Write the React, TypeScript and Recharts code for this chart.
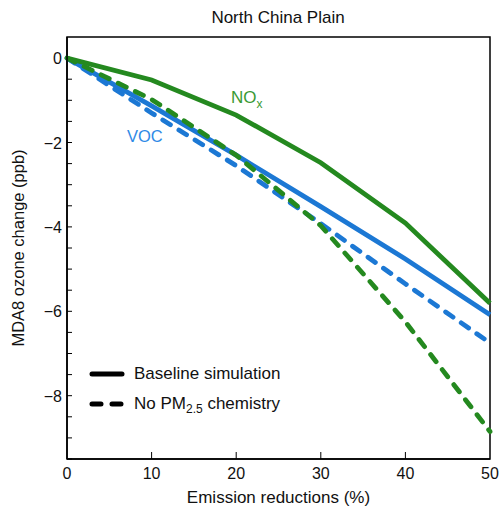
import React from "react";
import {
  LineChart,
  Line,
  XAxis,
  YAxis,
  Label,
  ReferenceDot,
  ReferenceArea,
} from "recharts";

const reductions = [0, 10, 20, 30, 40, 50];
const noxBaseline = [0, -0.52, -1.35, -2.48, -3.91, -5.81];
const vocBaseline = [0, -1.13, -2.3, -3.52, -4.76, -6.08];
const noxNoPM = [0, -0.98, -2.3, -3.97, -6.25, -8.85];
const vocNoPM = [0, -1.3, -2.55, -3.92, -5.35, -6.75];

const xTicks = [0, 10, 20, 30, 40, 50];
const yTicks = Array.from({ length: 20 }, (_, i) => -i * 0.5);
const yLabelled = [0, -2, -4, -6, -8];

const GREEN = "#24891f";
const BLUE = "#1c78d4";
const FONT = "'Liberation Sans', Arial, sans-serif";

const data = reductions.map((r, i) => ({
  x: r,
  noxBase: noxBaseline[i],
  vocBase: vocBaseline[i],
  noxNo: noxNoPM[i],
  vocNo: vocNoPM[i],
}));

const XTick = (props: any) => {
  const { x, y, payload } = props;
  const v = payload.value;
  return (
    <g>
      {v !== 0 && v !== 50 && (
        <line x1={x} x2={x} y1={y} y2={y - 7} stroke="#000" strokeWidth={1} />
      )}
      <text x={x} y={y + 20} textAnchor="middle" fontSize={16} fill="#111" fontFamily={FONT}>
        {v}
      </text>
    </g>
  );
};

const YTick = (props: any) => {
  const { x, y, payload } = props;
  const v = payload.value;
  const major = yLabelled.includes(v);
  return (
    <g>
      {v !== 0 && <line x1={x} x2={x + 5} y1={y} y2={y} stroke="#000" strokeWidth={1} />}
      {major && (
        <text x={x - 5} y={y + 6} textAnchor="end" fontSize={16} fill="#111" fontFamily={FONT}>
          {v === 0 ? "0" : `\u2212${Math.abs(v)}`}
        </text>
      )}
    </g>
  );
};

const LegendBox = () => (
  <div
    style={{
      position: "absolute",
      left: 88,
      top: 359,
      fontFamily: FONT,
      fontSize: 17,
      color: "#111",
    }}
  >
    <div style={{ display: "flex", alignItems: "center", height: 30 }}>
      <svg width={40} height={10}>
        <line x1={4} x2={34} y1={5} y2={5} stroke="#000" strokeWidth={5} strokeLinecap="round" />
      </svg>
      <span style={{ marginLeft: 6 }}>Baseline simulation</span>
    </div>
    <div style={{ display: "flex", alignItems: "center", height: 30 }}>
      <svg width={40} height={10}>
        <line x1={4} x2={36} y1={5} y2={5} stroke="#000" strokeWidth={5} strokeLinecap="round" strokeDasharray="9 11" />
      </svg>
      <span style={{ marginLeft: 6 }}>
        No PM<sub style={{ fontSize: 12, lineHeight: 0 }}>2.5</sub> chemistry
      </span>
    </div>
  </div>
);

export default function App() {
  return (
    <div style={{ position: "absolute", left: 0, top: 0, width: 500, height: 509, background: "#fff" }}>
      <div
        style={{
          position: "absolute",
          left: 0,
          width: 556,
          top: 8,
          textAlign: "center",
          fontFamily: FONT,
          fontSize: 17,
          color: "#111",
        }}
      >
        North China Plain
      </div>
      <LineChart
        width={500}
        height={509}
        data={data}
        margin={{ top: 37, right: 10, bottom: 0, left: 0 }}
      >
        <XAxis
          dataKey="x"
          type="number"
          domain={[0, 50]}
          ticks={xTicks}
          tick={<XTick />}
          tickSize={0}
          tickMargin={0}
          tickLine={false}
          axisLine={{ stroke: "#000", strokeWidth: 1.5 }}
          height={50}
        >
          <Label
            value="Emission reductions (%)"
            position="insideBottom"
            offset={6}
            style={{ fontFamily: FONT, fontSize: 17, fill: "#111" }}
          />
        </XAxis>
        <YAxis
          type="number"
          domain={[-9.5, 0.5]}
          ticks={yTicks}
          interval={0}
          tick={<YTick />}
          tickSize={0}
          tickMargin={0}
          tickLine={false}
          axisLine={{ stroke: "#000", strokeWidth: 1.5 }}
          width={67}
        >
          <Label
            value="MDA8 ozone change (ppb)"
            angle={-90}
            position="insideLeft"
            offset={18}
            style={{ textAnchor: "middle", fontFamily: FONT, fontSize: 16.5, fill: "#111" }}
          />
        </YAxis>
        <ReferenceArea
          x1={0}
          x2={50}
          y1={-9.5}
          y2={0.5}
          fill="none"
          stroke="#000"
          strokeWidth={1.5}
          ifOverflow="visible"
        />
        <Line dataKey="vocNo" stroke={BLUE} strokeWidth={4.8} strokeDasharray="9 10" strokeLinecap="round" dot={false} isAnimationActive={false} type="linear" />
        <Line dataKey="vocBase" stroke={BLUE} strokeWidth={4.8} dot={false} isAnimationActive={false} type="linear" />
        <Line dataKey="noxNo" stroke={GREEN} strokeWidth={4.8} strokeDasharray="9 10" strokeLinecap="round" dot={false} isAnimationActive={false} type="linear" />
        <Line dataKey="noxBase" stroke={GREEN} strokeWidth={4.8} dot={false} isAnimationActive={false} type="linear" />
        <ReferenceDot x={21.4} y={-0.92} r={0} fill="none" stroke="none">
          <Label
            position="center"
            content={(p: any) => {
              const vb = p.viewBox || {};
              const cx = (vb.x ?? 0) + (vb.width ?? 0) / 2;
              const cy = (vb.y ?? 0) + (vb.height ?? 0) / 2;
              return (
                <text x={cx - 17} y={cy + 6} fontFamily={FONT} fontSize={17} fill="#3a9a33">
                  NO<tspan fontSize={12} dy={5}>x</tspan>
                </text>
              );
            }}
          />
        </ReferenceDot>
        <ReferenceDot x={9.2} y={-1.86} r={0} fill="none" stroke="none">
          <Label
            value="VOC"
            position="center"
            style={{ fontFamily: FONT, fontSize: 16.5, fill: "#2f8ae6" }}
          />
        </ReferenceDot>
      </LineChart>
      <LegendBox />
    </div>
  );
}
